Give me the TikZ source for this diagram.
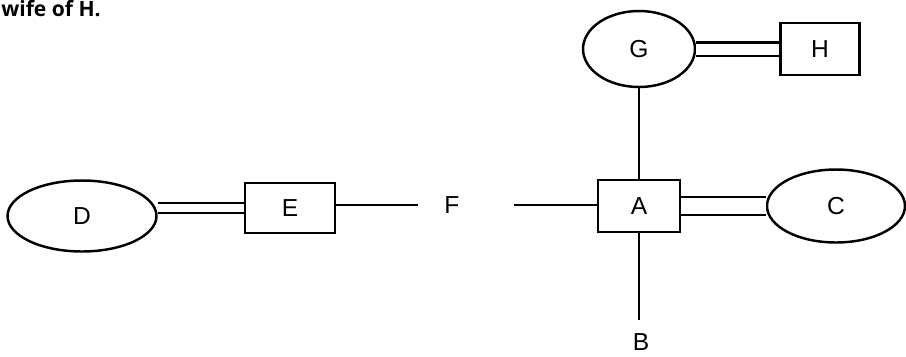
\documentclass[tikz,border=0pt]{standalone}
\usepackage{fontspec}
\setmainfont{Liberation Sans}
\newfontfamily\kopffont{Open Sans}
\usepackage{tikz}
\usetikzlibrary{shapes}
\tikzset{frau/.style = {
    shape=ellipse, draw = black, line width = 1.4pt,
    minimum width = 2.24cm, minimum height = 1.52cm,
    font = \fontsize{14}{16}\selectfont
}}
\tikzset{mann/.style = {
    shape = rectangle, draw = black, line width = 1.4pt,
    minimum width = 1.64cm, minimum height = 1.04cm,
    font = \fontsize{14}{16}\selectfont
}}
\tikzset{beschriftung/.style = {
    inner sep = 1pt, font = \fontsize{14}{16}\selectfont
}}
\tikzset{linie/.style = {
    draw = black, line width = 1.4pt
}}
\tikzset{ehe/.style = {
    draw = black, line width = 1.4pt, double = white
}}

\begin{document}
\begin{tikzpicture}[x=0.02cm, y=-0.02cm]
  \useasboundingbox (0,0) rectangle (906,356);
  \node (kopf) [anchor=base west, inner sep=0pt,
    font=\kopffont\bfseries\fontsize{12}{14}\selectfont] at (1,16) {wife of H.};
  % obere Reihe
  \node (G) at (639,49) [frau] {G};
  \node (H) at (820,49) [mann, minimum width=1.58cm] {H};
  % mittlere Reihe
  \node (D) at (82,216) [frau, minimum width=2.98cm, minimum height=1.42cm] {D};
  \node (E) at (290,208) [mann, minimum width=1.8cm, minimum height=1cm] {E};
  \node (F) at (452,205) [beschriftung] {F};
  \node (A) at (639,206) [mann] {A};
  \node (C) at (836,206) [frau, minimum width=2.76cm, minimum height=1.46cm] {C};
  % unten
  \node (B) at (641,342) [beschriftung] {B};
  \coordinate (Bende) at (639,320);
  % Verbindungen
  \draw[ehe, double distance=0.22cm] (G) -- (H);
  \draw[linie] (G) -- (A);
  \draw[ehe, double distance=0.16cm] (E.west) -- (E.west -| D.east);
  \draw[linie, shorten >=0.48cm] (E.east |- F) -- (F);
  \draw[linie, shorten <=1.04cm] (F) -- (A.west |- F);
  \draw[ehe, double distance=0.32cm] (A) -- (C);
  \draw[linie] (A.south) -- (Bende);
\end{tikzpicture}
\end{document}
